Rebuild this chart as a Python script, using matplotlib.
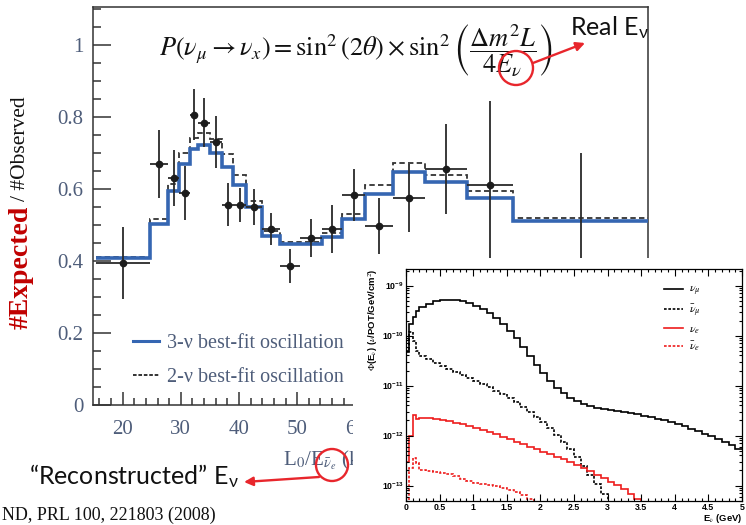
import numpy as np
import matplotlib.pyplot as plt
from matplotlib.lines import Line2D
from matplotlib.patches import Ellipse, FancyArrowPatch
from matplotlib.ticker import MultipleLocator, LogLocator, FuncFormatter, NullFormatter

plt.rcParams['font.family'] = 'serif'
plt.rcParams['font.serif'] = ['Liberation Serif', 'DejaVu Serif']
plt.rcParams['mathtext.fontset'] = 'stix'

W, H = 746, 525  # canvas in pixels

# --- L0/E ratio (KamLAND) ---
ratio_edges = [15.4, 24.7, 27.8, 29.7, 31.6, 33.0, 35.0, 37.1, 39.0, 41.2, 44.0,
               47.1, 50.5, 54.3, 57.7, 61.7, 66.5, 72.0, 79.2, 87.1, 110.3]
fit_3nu = [0.408, 0.503, 0.594, 0.669, 0.711, 0.722, 0.700, 0.661, 0.611, 0.550,
           0.469, 0.447, 0.447, 0.467, 0.517, 0.587, 0.647, 0.618, 0.574, 0.511]
fit_2nu = [0.412, 0.517, 0.614, 0.700, 0.742, 0.756, 0.739, 0.697, 0.639, 0.565,
           0.482, 0.453, 0.453, 0.478, 0.530, 0.611, 0.672, 0.639, 0.594, 0.519]
ratio_obs = [0.394, 0.669, 0.630, 0.589, 0.806, 0.783, 0.731, 0.556, 0.556, 0.550,
             0.489, 0.386, 0.464, 0.489, 0.583, 0.497, 0.575, 0.656, 0.611, 0.300]
ratio_err = [0.100, 0.095, 0.077, 0.074, 0.070, 0.068, 0.072, 0.060, 0.047, 0.050,
             0.045, 0.047, 0.053, 0.066, 0.071, 0.078, 0.095, 0.125, 0.233, 0.400]

# --- neutrino flux vs energy (log10 of flux per bin) ---
flux_edges = [0.0, 0.05, 0.1, 0.15, 0.2] + list(np.round(np.arange(0.3, 5.01, 0.1), 2))
log_numu = [-10.32, -9.76, -9.62, -9.50, -9.42, -9.36, -9.31, -9.29, -9.28, -9.29,
            -9.31, -9.35, -9.40, -9.46, -9.54, -9.64, -9.76, -9.90, -10.05, -10.22,
            -10.40, -10.58, -10.75, -10.91, -11.04, -11.15, -11.24, -11.31, -11.37, -11.41,
            -11.44, -11.47, -11.49, -11.51, -11.53, -11.55, -11.57, -11.60, -11.63, -11.66,
            -11.69, -11.73, -11.77, -11.81, -11.86, -11.91, -11.96, -12.01, -12.07, -12.13,
            -12.19, -12.26]
log_numubar = [-10.30, -9.93, -10.10, -10.30, -10.40, -10.47, -10.54, -10.61, -10.66, -10.72,
               -10.78, -10.84, -10.90, -10.96, -11.03, -11.10, -11.17, -11.25, -11.33, -11.42,
               -11.52, -11.62, -11.73, -11.85, -11.98, -12.12, -12.27, -12.43, -12.60, -12.78,
               -12.97, -13.17, -13.40] + [-14.0] * 19
log_nue = [-12.53, -12.00, -11.58, -11.67, -11.65, -11.64, -11.66, -11.68, -11.71, -11.74,
           -11.77, -11.81, -11.85, -11.89, -11.93, -11.97, -12.02, -12.07, -12.12, -12.17,
           -12.22, -12.27, -12.32, -12.37, -12.42, -12.47, -12.52, -12.58, -12.64, -12.71,
           -12.78, -12.85, -12.92, -12.99, -13.07, -13.16, -13.26] + [-14.0] * 15
log_nuebar = [-14.0, -12.65, -12.45, -12.55, -12.68, -12.70, -12.72, -12.74, -12.77, -12.81,
              -12.86, -12.91, -12.95, -12.97, -12.99, -13.01, -13.04, -13.08, -13.13, -13.19,
              -13.26, -13.34] + [-14.0] * 30

blue = '#3566b2'
red = '#e8262c'
slate = '#4e5d7a'


def fx(px):
    return px / W


def fy(py):
    return 1 - py / H


fig = plt.figure(figsize=(W / 100, H / 100), dpi=100)

# main ratio panel
ax = fig.add_axes([fx(93), fy(405), (648 - 93) / W, (405 - 7) / H])
ax.stairs(fit_3nu, ratio_edges, baseline=None, color=blue, lw=2.6, zorder=3)
ax.stairs(fit_2nu, ratio_edges, baseline=None, color='#333333', lw=1.3,
          linestyle=(0, (3, 1.8)), zorder=2)
centers = [(a + b) / 2 for a, b in zip(ratio_edges[:-1], ratio_edges[1:])]
halfw = [(b - a) / 2 for a, b in zip(ratio_edges[:-1], ratio_edges[1:])]
ax.errorbar(centers, ratio_obs, yerr=ratio_err, xerr=halfw, fmt='o', ms=4.5,
            color='#1c1c1c', ecolor='#2a2a2a', elinewidth=1.3, capsize=0, zorder=4)

ax.set_xlim(14.9, 110.3)
ax.set_ylim(0, 1.105)
ax.xaxis.set_major_locator(MultipleLocator(10))
ax.xaxis.set_minor_locator(MultipleLocator(2))
ax.yaxis.set_major_locator(MultipleLocator(0.2))
ax.yaxis.set_minor_locator(MultipleLocator(0.05))
ax.yaxis.set_major_formatter(FuncFormatter(lambda v, p: '%g' % round(v, 2)))
ax.tick_params(which='both', direction='in', top=False, right=False,
               colors='#333333', labelcolor=slate, labelsize=15, width=1.1)
ax.tick_params(axis='y', which='major', length=13, pad=7)
ax.tick_params(axis='y', which='minor', length=6)
ax.tick_params(axis='x', which='major', length=9.5, pad=11)
ax.tick_params(axis='x', which='minor', length=5)
for s in ax.spines.values():
    s.set_linewidth(1.1)
    s.set_color('#333333')

ax.set_xlabel(r'L$_0$/E$_{\bar{\nu}_e}$ (km/MeV)', fontsize=15, color=slate)
ax.xaxis.set_label_coords((283 - 93) / 555, -0.11)
ax.xaxis.label.set_ha('left')

handles = [Line2D([], [], color=blue, lw=2.2),
           Line2D([], [], color='#222222', lw=1.3, linestyle=(0, (2, 1)))]
ax.legend(handles, ['3-ν best-fit oscillation', '2-ν best-fit oscillation'],
          loc='upper left', bbox_to_anchor=((133 - 93) / 555, (405 - 334) / 398),
          frameon=False, fontsize=14.5, handlelength=1.3, handletextpad=0.4,
          borderpad=0, borderaxespad=0, labelspacing=0.72, labelcolor=slate)

ax.text(fx(356), fy(50),
        r'$P\left(\nu_\mu \rightarrow \nu_x\right) = \sin^2(2\theta)\times\sin^2'
        r'\left(\dfrac{\Delta m^2 L}{4E_\nu}\right)$',
        transform=fig.transFigure, ha='center', va='center', fontsize=19, color='#111111')

# y axis title in two colours
fig.text(fx(21), fy(329), '#Expected', rotation=90, ha='center', va='bottom',
         fontsize=20, fontweight='bold', color='#c00000')
fig.text(fx(21), fy(96), '/ #Observed', rotation=90, ha='center', va='top',
         fontsize=15.5, color='#111111')

# white backing for the flux panel
back = fig.add_axes([fx(353), 0, 1 - fx(353), (H - 258) / H])
back.set_zorder(2)
back.set_xticks([])
back.set_yticks([])
for s in back.spines.values():
    s.set_visible(False)
back.set_facecolor('white')

# flux panel
axi = fig.add_axes([fx(406), fy(501), (742 - 406) / W, (501 - 269) / H])
axi.set_zorder(3)
flux_series = [
    (log_numu, 'black', '-', r'$\nu_\mu$'),
    (log_numubar, 'black', (0, (1.6, 1.0)), r'$\bar{\nu}_\mu$'),
    (log_nue, '#ee1c1c', '-', r'$\nu_e$'),
    (log_nuebar, '#ee1c1c', (0, (1.6, 1.0)), r'$\bar{\nu}_e$'),
]
flux_handles = []
for vals, c, ls, lab in flux_series:
    axi.stairs(10 ** np.array(vals), flux_edges, baseline=None, color=c, lw=1.2, linestyle=ls)
    flux_handles.append(Line2D([], [], color=c, lw=1.2, linestyle=ls))
axi.set_yscale('log')
axi.set_xlim(0, 5)
axi.set_ylim(4.9e-14, 2.15e-9)
axi.xaxis.set_major_locator(MultipleLocator(0.5))
axi.xaxis.set_minor_locator(MultipleLocator(0.1))
axi.xaxis.set_major_formatter(FuncFormatter(lambda v, p: '%g' % v))
axi.yaxis.set_major_locator(LogLocator(base=10, numticks=10))
axi.yaxis.set_minor_locator(LogLocator(base=10, subs=np.arange(2, 10), numticks=20))
axi.yaxis.set_minor_formatter(NullFormatter())
axi.yaxis.set_major_formatter(FuncFormatter(lambda v, p: r'$\mathdefault{10^{%d}}$' % round(np.log10(v))))
axi.tick_params(which='both', direction='in', top=True, right=True, width=0.8,
                labelsize=6.3, pad=1.5)
axi.tick_params(which='major', length=5)
axi.tick_params(which='minor', length=2.5)
for lab in axi.get_xticklabels() + axi.get_yticklabels():
    lab.set_fontfamily('Liberation Sans')
    lab.set_fontweight('bold')
for s in axi.spines.values():
    s.set_linewidth(0.9)
axi.legend(flux_handles, [s[3] for s in flux_series], loc='upper left',
           bbox_to_anchor=(fx(664), fy(284)), bbox_transform=fig.transFigure,
           frameon=False, fontsize=8.5, handlelength=1.6, handletextpad=0.5,
           borderpad=0, borderaxespad=0, labelspacing=0.35)
fig.text(fx(373), fy(268), r'$\Phi$(E$_\nu$) ($\nu$/POT/GeV/cm$^2$)', rotation=90,
         ha='center', va='top', fontsize=6.8, family='Liberation Sans', fontweight='bold',
         zorder=10)
fig.text(fx(742), fy(521), r'E$_\nu$ (GeV)', ha='right', va='baseline', fontsize=6.8,
         family='Liberation Sans', fontweight='bold', zorder=10)

# red call-outs
sans = 'Lato'
fig.text(fx(570), fy(36), r'Real E$_{\mathregular{ν}}$', fontsize=18, family=sans,
         color='#111111', va='baseline', zorder=10)
fig.text(fx(29), fy(485), r'“Reconstructed” E$_{\mathregular{ν}}$', fontsize=18, family=sans,
         color='#111111', va='baseline', zorder=10)
for cx, cy, r in [(516, 68, 17), (332, 465, 16)]:
    fig.add_artist(Ellipse((fx(cx), fy(cy)), 2 * r / W, 2 * r / H, transform=fig.transFigure,
                           fill=False, ec=red, lw=1.7, zorder=10))
for (x0, y0), (x1, y1) in [((533, 63), (585, 43)), ((319, 477), (244, 482))]:
    fig.add_artist(FancyArrowPatch((fx(x0), fy(y0)), (fx(x1), fy(y1)), transform=fig.transFigure,
                                   arrowstyle='-|>', mutation_scale=13, color=red, lw=1.7,
                                   shrinkA=0, shrinkB=0, zorder=10))

fig.text(fx(2), fy(520), 'ND, PRL 100, 221803 (2008)', fontsize=13, color='#111111',
         va='baseline', zorder=10)

fig.savefig('out.png', dpi=100)
